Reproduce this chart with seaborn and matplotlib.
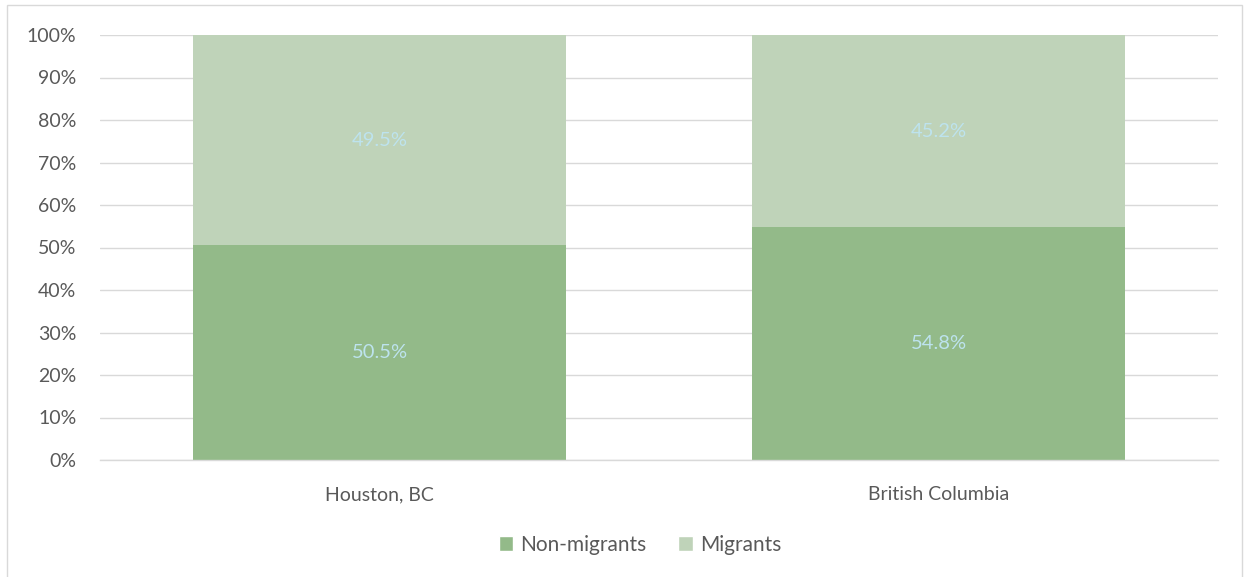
import matplotlib
matplotlib.use("Agg")
import matplotlib.pyplot as plt
import seaborn as sns
import pandas as pd
from matplotlib.patches import Patch, Rectangle

categories = ["Houston, BC", "British Columbia"]
non_migrants = [50.5, 54.8]
migrants = [49.5, 45.2]
series_names = ["Non-migrants", "Migrants"]
yticks = [0, 10, 20, 30, 40, 50, 60, 70, 80, 90, 100]

sns.set_theme(style="white")
plt.rcParams["font.family"] = ["Lato", "DejaVu Sans"]

dark = "#93BA89"
light = "#BFD3B9"
label_col = "#BDE3EE"
txt = "#595959"
fs = 14

df = pd.DataFrame({"cat": categories, "non": non_migrants, "mig": migrants})
df["total"] = df["non"] + df["mig"]

fig = plt.figure(figsize=(12.44, 5.77), dpi=100)
ax = fig.add_axes([100/1244, 117/577, 1118/1244, 425/577])

sns.barplot(data=df, x="cat", y="total", color=light, width=0.667, ax=ax,
            saturation=1, linewidth=0)
sns.barplot(data=df, x="cat", y="non", color=dark, width=0.667, ax=ax,
            saturation=1, linewidth=0)

for i, (n, m) in enumerate(zip(non_migrants, migrants)):
    ax.text(i, n / 2, f"{n:.1f}%", ha="center", va="center", color=label_col, fontsize=fs + 0.5)
    ax.text(i, n + m / 2, f"{m:.1f}%", ha="center", va="center", color=label_col, fontsize=fs + 0.5)

ax.set_xlim(-0.5, 1.5)
ax.set_ylim(0, 100)
ax.set_yticks(yticks)
ax.set_yticklabels([f"{t}%" for t in yticks])
ax.yaxis.grid(True, color="#D9D9D9", linewidth=1)
ax.set_axisbelow(True)
for s in ["top", "right", "left"]:
    ax.spines[s].set_visible(False)
ax.spines["bottom"].set_color("#D9D9D9")
ax.spines["bottom"].set_linewidth(1)
ax.set_xlabel("")
ax.set_ylabel("")
ax.tick_params(axis="y", colors=txt, labelsize=fs, length=0, pad=17)
ax.tick_params(axis="x", colors=txt, labelsize=fs, length=0, pad=19)

handles = [Patch(facecolor=dark, label=series_names[0]),
           Patch(facecolor=light, label=series_names[1])]
leg = fig.legend(handles=handles, loc="center", bbox_to_anchor=(640/1244, 1 - 545/577),
                 ncol=2, frameon=False, fontsize=15, handlelength=0.7, handleheight=0.7,
                 columnspacing=1.5, handletextpad=0.35)
for t in leg.get_texts():
    t.set_color(txt)

fig.patches.append(Rectangle((7/1244, -0.01), 1235/1244, (572/577) + 0.01, transform=fig.transFigure,
                             fill=False, edgecolor="#D9D9D9", linewidth=1))

fig.savefig("out.png", dpi=100)
